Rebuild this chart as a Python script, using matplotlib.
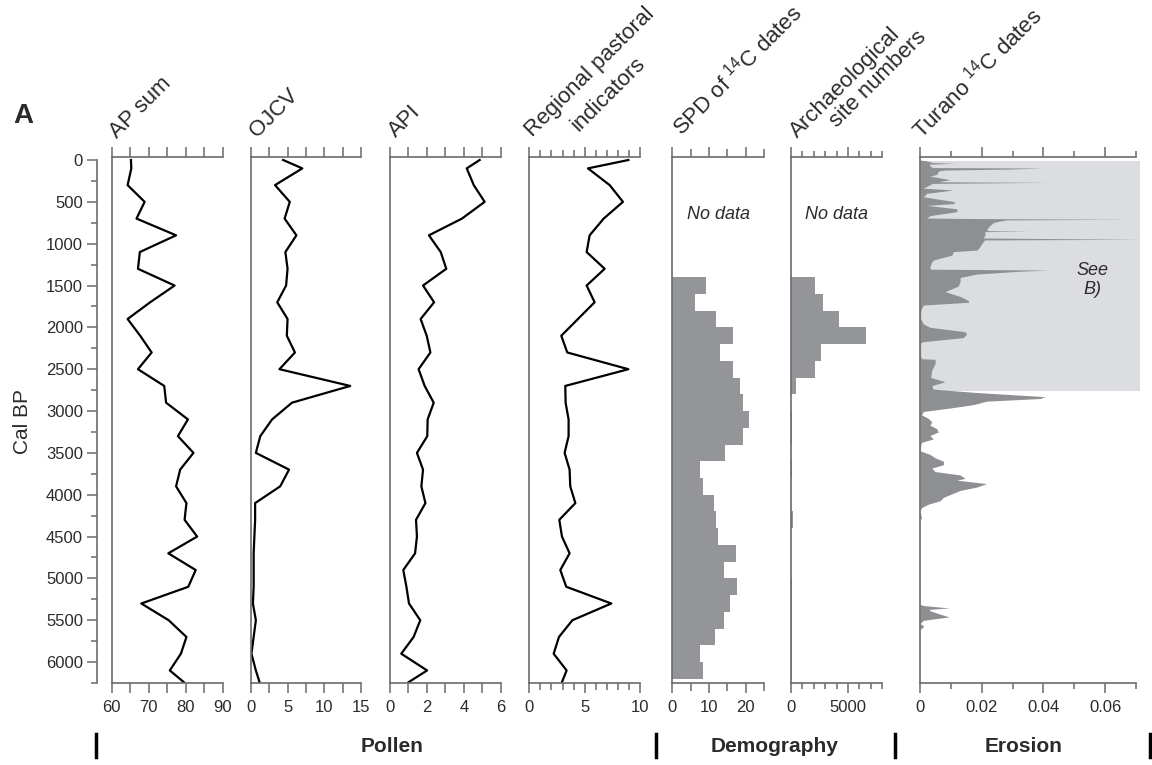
import matplotlib
matplotlib.use('Agg')
import matplotlib.pyplot as plt
from matplotlib.ticker import MultipleLocator, FuncFormatter
from matplotlib.lines import Line2D

plt.rcParams['font.family'] = ['Liberation Sans', 'DejaVu Sans']
plt.rcParams['mathtext.fontset'] = 'custom'
plt.rcParams['mathtext.rm'] = 'Liberation Sans'
plt.rcParams['mathtext.it'] = 'Liberation Sans:italic'

# ---- pollen series (cal BP ages shared by AP, OJCV, API) ----
pollen_age = [0, 100, 300, 500, 700, 900, 1100, 1300, 1500, 1700, 1900, 2100,
              2300, 2500, 2700, 2900, 3100, 3300, 3500, 3700, 3900, 4100, 4300,
              4500, 4700, 4900, 5100, 5300, 5500, 5700, 5900, 6100, 6240]
ap_sum = [65.2, 65.3, 64.3, 68.9, 66.7, 77.4, 67.6, 67.1, 77.0, 70.4, 64.3, 67.7,
          70.8, 67.1, 74.2, 74.7, 80.6, 77.9, 82.1, 78.5, 77.4, 80.2, 79.7,
          83.1, 75.3, 82.7, 80.7, 68.0, 75.4, 80.2, 78.7, 75.7, 79.5]
ojcv = [4.4, 7.0, 3.3, 5.3, 4.6, 6.2, 4.7, 5.0, 4.8, 3.6, 5.0, 4.9,
        6.0, 3.9, 13.5, 5.6, 2.9, 1.3, 0.7, 5.2, 4.0, 0.6, 0.6,
        0.5, 0.4, 0.4, 0.4, 0.3, 0.7, 0.4, 0.1, 0.7, 1.2]
api = [4.86, 4.16, 4.54, 5.13, 3.90, 2.11, 2.75, 3.05, 1.79, 2.39, 1.66, 1.99,
       2.19, 1.55, 1.88, 2.37, 2.04, 2.02, 1.46, 1.79, 1.70, 1.92, 1.41,
       1.46, 1.36, 0.72, 0.89, 1.03, 1.64, 1.28, 0.61, 2.01, 1.01]

regional_age = [0, 100, 300, 500, 700, 900, 1100, 1300, 1500, 1700, 2100,
                2300, 2500, 2700, 2900, 3100, 3300, 3500, 3700, 3900, 4100, 4300,
                4500, 4700, 4900, 5100, 5300, 5500, 5700, 5900, 6100, 6240]
regional = [8.95, 5.30, 7.26, 8.46, 6.72, 5.45, 5.18, 6.81, 5.18, 5.90, 2.89,
            3.43, 8.95, 3.25, 3.28, 3.55, 3.55, 3.19, 3.64, 3.70, 4.16, 2.71,
            2.95, 3.64, 2.80, 3.34, 7.41, 3.89, 2.68, 2.20, 3.37, 2.95]

# ---- demography (200-year bins from 1400 cal BP) ----
bin_start = [1400, 1600, 1800, 2000, 2200, 2400, 2600, 2800, 3000, 3200, 3400, 3600,
             3800, 4000, 4200, 4400, 4600, 4800, 5000, 5200, 5400, 5600, 5800, 6000]
spd = [9.1, 6.1, 11.8, 16.5, 13.1, 16.5, 18.5, 19.4, 21.0, 19.2, 14.5, 7.6,
       8.5, 11.4, 11.8, 12.4, 17.3, 14.2, 17.6, 15.7, 14.2, 11.6, 7.5, 8.5]
sites = [2080, 2800, 4220, 6590, 2630, 2080, 430, 30, 120, 120, 40, 100,
         30, 40, 200, 40, 30, 40, 80, 80, 60, 60, 60, 70]

# ---- erosion: Turano 14C dates ----
turano_age = [0, 10, 30, 40, 49, 70, 90, 96, 108, 120, 131, 172, 193, 234, 260, 267, 280,
              337, 358, 398, 439, 498, 521, 542, 583, 617, 665, 694, 700, 709,
              716, 740, 747, 788, 829, 845, 849, 856, 891, 932, 948, 955, 973,
              1036, 1076, 1095, 1137, 1195, 1219, 1281, 1305, 1315, 1330, 1363,
              1404, 1454, 1507, 1573, 1630, 1680, 1700, 1733, 1773, 1814,
              1855, 1897, 1958, 1999, 2052, 2081, 2122, 2171, 2184, 2348, 2375,
              2382, 2430, 2512, 2600, 2649, 2697, 2738, 2779, 2828, 2850, 2882,
              2923, 2964, 3005, 3046, 3087, 3128, 3169, 3210, 3251, 3292, 3333,
              3374, 3415, 3477, 3518, 3559, 3600, 3641, 3682, 3723, 3764, 3805,
              3826, 3867, 3908, 3949, 3990, 4031, 4072, 4113, 4154, 4195, 4277,
              4300, 5090, 5098, 5110, 5175, 5180, 5190, 5310, 5324, 5353, 5370,
              5386, 5427, 5460, 5501, 5540, 5570, 5612, 6250]
turano = [0.0, 0.002, 0.004, 0.0113, 0.003, 0.0032, 0.004, 0.040, 0.029, 0.008, 0.006, 0.0054,
          0.0032, 0.0097, 0.006, 0.0415, 0.004, 0.0011, 0.0108, 0.0022, 0.0011,
          0.0113, 0.0108, 0.0022, 0.0119, 0.0119, 0.0032, 0.0022, 0.0194,
          0.0675, 0.028, 0.0245, 0.0238, 0.0225, 0.0216, 0.022, 0.0356, 0.021, 0.0211,
          0.0205, 0.0716, 0.021, 0.0205, 0.0194, 0.0185, 0.0108, 0.0103, 0.0043,
          0.0038, 0.0032, 0.0035, 0.0416, 0.032, 0.0184, 0.013, 0.0130, 0.0124,
          0.0081, 0.013, 0.0157, 0.0157, 0.0011, 0.0005, 0.0002, 0.0002,
          0.0002, 0.0011, 0.0032, 0.0146, 0.0151, 0.0140, 0.0011, 0.0002, 0.0002,
          0.0005, 0.0049, 0.0049, 0.0038, 0.0035, 0.0081, 0.0038, 0.0043, 0.0185,
          0.0405, 0.0389, 0.0216, 0.0173, 0.0097, 0.0011, 0.0005, 0.0027, 0.0038,
          0.0032, 0.0054, 0.0059, 0.0032, 0.0043, 0.0005, 0.0002, 0.0002, 0.0032,
          0.0049, 0.0076, 0.0076, 0.0038, 0.0049, 0.013, 0.0146, 0.0119, 0.0216,
          0.0184, 0.013, 0.0103, 0.0076, 0.0065, 0.0027, 0.0005, 0.0, 0.0005,
          0.0, 0.0, 0.0003, 0.0, 0.0, 0.0003, 0.0, 0.0, 0.0011, 0.0095, 0.003,
          0.0032, 0.0065, 0.0095, 0.0011, 0.0, 0.0013, 0.0, 0.0]
see_b_span = [15, 2765]

W, H = 1152, 765
TOP, BOTTOM = 157, 683
SPINE = '#6b6b6b'
TXT = '#2b2b2b'
BAR = '#939598'
BOX = '#dcdde0'


def fx(x):
    return x / W


def fy(y):
    return 1 - y / H


def panel(x0, x1, xlim, major, minor, minor_len=4):
    ax = fig.add_axes([fx(x0), fy(BOTTOM), (x1 - x0) / W, (BOTTOM - TOP) / H])
    ax.set_ylim(6250, -36)
    ax.set_xlim(*xlim)
    ax.spines['right'].set_visible(False)
    for s in ['left', 'top', 'bottom']:
        ax.spines[s].set_color(SPINE)
        ax.spines[s].set_linewidth(1.2)
    ax.set_yticks([])
    ax.xaxis.set_major_locator(MultipleLocator(major))
    ax.xaxis.set_minor_locator(MultipleLocator(minor))
    ax.tick_params(axis='x', which='both', top=True, bottom=True, direction='out',
                   color=SPINE, width=1.1, labelsize=12, labelcolor=TXT, pad=5)
    ax.tick_params(axis='x', which='major', length=7)
    ax.tick_params(axis='x', which='minor', length=minor_len)
    ax.xaxis.set_major_formatter(FuncFormatter(lambda v, _: '0' if abs(v) < 1e-12 else f'{v:g}'))
    ax.patch.set_alpha(0)
    return ax


fig = plt.figure(figsize=(11.52, 7.65), dpi=100)

# Cal BP axis
ay = fig.add_axes([fx(97), fy(BOTTOM), 1 / W, (BOTTOM - TOP) / H])
ay.set_ylim(6250, -36)
for s in ['right', 'top', 'bottom']:
    ay.spines[s].set_visible(False)
ay.spines['left'].set_color(SPINE)
ay.spines['left'].set_linewidth(1.2)
ay.spines['left'].set_bounds(0, 6250)
ay.set_xticks([])
ay.yaxis.set_major_locator(MultipleLocator(500))
ay.yaxis.set_minor_locator(MultipleLocator(250))
ay.tick_params(axis='y', which='both', width=1.1, color=SPINE,
               labelsize=12, labelcolor=TXT, pad=3)
ay.tick_params(axis='y', which='major', length=7)
ay.tick_params(axis='y', which='minor', length=4)
ay.set_ylim(6250, -36)

# pollen panels
ax1 = panel(111.7, 222.7, (60, 90), 10, 5, 7)
ax1.plot(ap_sum, pollen_age, color='black', lw=1.6)
ax2 = panel(250.7, 361.3, (0, 15), 5, 2.5, 7)
ax2.plot(ojcv, pollen_age, color='black', lw=1.6)
ax3 = panel(390, 500.7, (0, 6), 2, 1, 7)
ax3.plot(api, pollen_age, color='black', lw=1.6)
ax4 = panel(529.3, 640, (0, 10), 5, 1, 5)
ax4.plot(regional, regional_age, color='black', lw=1.6)

# demography panels
ax5 = panel(672.3, 764, (0, 25), 10, 5, 6)
ax5.barh(bin_start, spd, height=200, align='edge', color=BAR, lw=0)
ax5.text(12.5, 657, 'No data', style='italic', fontsize=13, color=TXT, ha='center', va='center')
ax6 = panel(791, 882.3, (0, 8000), 5000, 1000, 4)
ax6.barh(bin_start, sites, height=200, align='edge', color=BAR, lw=0)
ax6.text(4000, 657, 'No data', style='italic', fontsize=13, color=TXT, ha='center', va='center')

# erosion panel
ax7 = panel(920, 1136, (0, 0.07), 0.02, 0.01, 4)
ax7.fill_betweenx(see_b_span, 0, 0.0713, color=BOX, lw=0, clip_on=False, zorder=1)
ax7.fill_betweenx(turano_age, 0, turano, color='#8e8f93', lw=0, zorder=2, clip_on=False)
ax7.text(0.056, 1434, 'See\nB)', style='italic', fontsize=13, color=TXT,
         ha='center', va='center', multialignment='center', zorder=3)

# column titles
titles = [
    (117, 139, 'AP sum'),
    (257, 138, 'OJCV'),
    (396, 138, 'API'),
    (532, 137, 'Regional pastoral'),
    (578, 132, 'indicators'),
    (682, 137, r'SPD of $^{14}$C dates'),
    (797, 138, 'Archaeological'),
    (837, 128, 'site numbers'),
    (922, 140, r'Turano $^{14}$C dates'),
]
for x, y, s in titles:
    fig.text(fx(x), fy(y), s, rotation=45, rotation_mode='anchor', ha='left',
             va='baseline', fontsize=16, color=TXT)

fig.text(fx(13), fy(123), 'A', fontsize=20, fontweight='bold', ha='left', va='baseline', color=TXT)
fig.text(fx(22), fy(421), 'Cal BP', rotation=90, fontsize=15, ha='center', va='center', color=TXT)

# group labels along the bottom
for x, s in [(392, 'Pollen'), (775, 'Demography'), (1024, 'Erosion')]:
    fig.text(fx(x), fy(746), s, fontsize=15, fontweight='bold', ha='center', va='center', color=TXT)
for x in [96, 656, 895, 1150]:
    fig.add_artist(Line2D([fx(x), fx(x)], [fy(734), fy(757)], color='black', lw=2.5))

fig.savefig('out.png', dpi=100)
